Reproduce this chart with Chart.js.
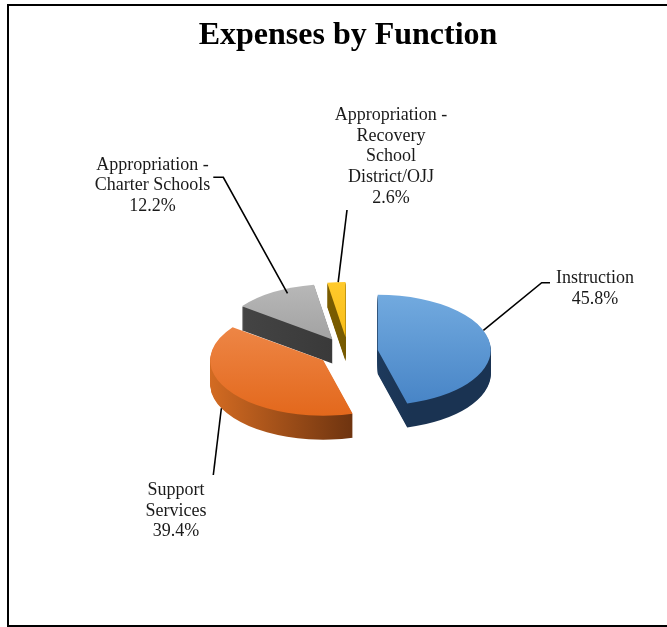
<!DOCTYPE html>
<html>
<head>
<meta charset="utf-8">
<script src="https://cdn.jsdelivr.net/npm/chart.js@4/dist/chart.umd.min.js"></script>
<style>
html,body{margin:0;padding:0;background:#fff;}
#wrap{position:relative;width:667px;height:627px;}
</style>
</head>
<body>
<div id="wrap"><canvas id="c" width="667" height="627"></canvas></div>
<script>
// ---- data ----
const categories = [
  ['Instruction'],
  ['Support', 'Services'],
  ['Appropriation -', 'Charter Schools'],
  ['Appropriation -', 'Recovery', 'School', 'District/OJJ']
];
const values = [45.8, 39.4, 12.2, 2.6];
const chartTitle = 'Expenses by Function';

// ---- styles ----
const topColorsA  = ['#72AADF', '#F08D50', '#B8B8B8', '#FFCA2C'];
const topColorsB  = ['#4784C6', '#E3681C', '#8C8C8C', '#F2B000'];
const sideColorsA = ['#27507D', '#D36B22', '#474747', '#8F6C00'];
const sideColorsB = ['#1A3352', '#6B320F', '#353535', '#6F5400'];
const drawOrder = [3, 2, 0, 1];
const SQUASH = 0.49;
const DEPTH = 24;
const FONT = '"Liberation Serif", "Times New Roman", serif';

// label layout: anchor (centre x, first baseline y), attach fraction along slice, leader path
const labelLayout = [
  {x: 595, y: 283, attach: 0.42, drop: 0, path: [[541.7, 282.7], [550, 282.7]]},
  {x: 176, y: 495, attach: 0.56, drop: 1, path: [[213.3, 475]]},
  {x: 152.5, y: 169.5, attach: 0.68, drop: 0.2, path: [[223.3, 177.3], [213.3, 177.3]]},
  {x: 391, y: 120, attach: 0.6, drop: 0, path: [[347, 210]]}
];
const LINE_H = 20.7;

function geom(arc) {
  const p = arc.getProps(['x', 'y', 'startAngle', 'endAngle', 'outerRadius'], true);
  const off = (arc.options.offset || 0) / 4;
  const half = (p.startAngle + p.endAngle) / 2;
  return {
    x: p.x, y: p.y, r: p.outerRadius, a0: p.startAngle, a1: p.endAngle,
    cx: p.x + Math.cos(half) * off,
    cy: p.y + Math.sin(half) * off
  };
}
function projY(g, v) { return g.y + (v - g.y) * SQUASH; }

const pie3d = {
  id: 'pie3d',
  beforeDatasetDraw(chart, args) {
    const ctx = chart.ctx;
    const arcs = args.meta.data;
    const total = values.reduce((s, v) => s + v, 0);
    function path(g, dy) {
      ctx.save();
      ctx.translate(0, dy);
      ctx.translate(0, g.y);
      ctx.scale(1, SQUASH);
      ctx.translate(0, -g.y);
      ctx.beginPath();
      ctx.moveTo(g.cx, g.cy);
      ctx.arc(g.cx, g.cy, g.r, g.a0, g.a1);
      ctx.closePath();
      ctx.restore();
    }
    drawOrder.forEach(i => {
      const arc = arcs[i];
      if (!arc) return;
      const g = geom(arc);
      const sg = ctx.createLinearGradient(g.cx - g.r, 0, g.cx + g.r * 0.3, 0);
      sg.addColorStop(0, sideColorsA[i]);
      sg.addColorStop(1, sideColorsB[i]);
      for (let d = DEPTH; d >= 1; d--) {
        path(g, d);
        ctx.fillStyle = sg;
        ctx.fill();
      }
      const tg = ctx.createLinearGradient(0, projY(g, g.cy - g.r), 0, projY(g, g.cy + g.r));
      tg.addColorStop(0, topColorsA[i]);
      tg.addColorStop(1, topColorsB[i]);
      path(g, 0);
      ctx.fillStyle = tg;
      ctx.fill();
    });

    ctx.save();
    ctx.strokeStyle = '#000';
    ctx.lineWidth = 1.6;
    ctx.fillStyle = '#1a1a1a';
    ctx.font = '18px ' + FONT;
    ctx.textAlign = 'center';
    ctx.textBaseline = 'alphabetic';
    arcs.forEach((arc, i) => {
      const L = labelLayout[i];
      const g = geom(arc);
      const a = g.a0 + (g.a1 - g.a0) * L.attach;
      const sx = g.cx + Math.cos(a) * g.r;
      const sy = projY(g, g.cy + Math.sin(a) * g.r) + L.drop * DEPTH;
      ctx.beginPath();
      ctx.moveTo(sx, sy);
      L.path.forEach(p => ctx.lineTo(p[0], p[1]));
      ctx.stroke();
      const lines = categories[i].concat([(values[i] / total * 100).toFixed(1) + '%']);
      lines.forEach((t, k) => ctx.fillText(t, L.x, L.y + k * LINE_H));
    });
    ctx.restore();
    return false;
  }
};

const frame = {
  id: 'frame',
  afterDraw(chart) {
    const ctx = chart.ctx;
    ctx.save();
    ctx.fillStyle = '#000';
    ctx.fillRect(7, 4, 660, 2);
    ctx.fillRect(7, 4, 2, 623);
    ctx.fillRect(7, 625, 660, 2);
    ctx.restore();
  }
};

new Chart(document.getElementById('c'), {
  type: 'pie',
  data: {
    labels: categories,
    datasets: [{
      data: values,
      backgroundColor: topColorsB,
      borderWidth: 0,
      offset: 120,
      radius: 113
    }]
  },
  options: {
    responsive: false,
    animation: false,
    devicePixelRatio: 1,
    layout: {padding: {left: 29, right: 0, top: 0, bottom: 0}},
    plugins: {
      legend: {display: false},
      tooltip: {enabled: false},
      title: {
        display: true,
        text: chartTitle,
        color: '#000',
        font: {family: FONT, size: 32, weight: 'bold'},
        padding: {top: 17, bottom: 21.6}
      }
    }
  },
  plugins: [pie3d, frame]
});
</script>
</body>
</html>
